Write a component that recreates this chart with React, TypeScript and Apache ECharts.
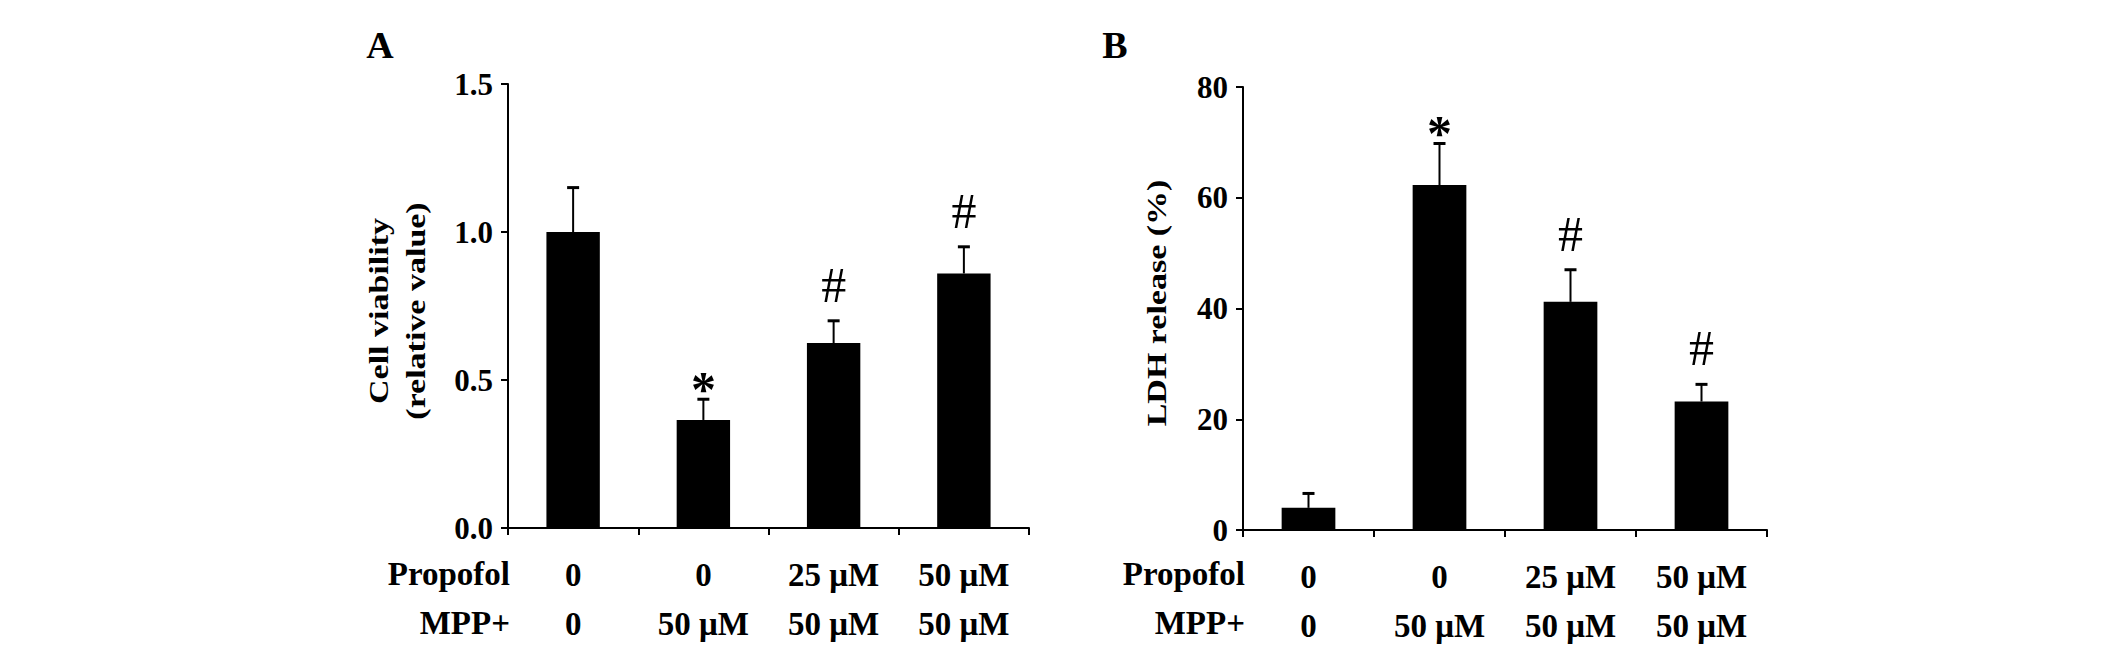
import React, { useEffect, useRef } from "react";
import * as echarts from "echarts";

// ---- data ----
const propofolLabels = ["0", "0", "25 μM", "50 μM"];
const mppLabels = ["0", "50 μM", "50 μM", "50 μM"];

const viability = [1.0, 0.365, 0.625, 0.86];
const viabilityErr = [0.15, 0.07, 0.075, 0.09];
const viabilityMarks = ["", "*", "#", "#"];
const viabilityTicks = { min: 0, max: 1.5, interval: 0.5 };
const viabilityTitle = "Cell viability\n(relative value)";

const ldh = [4.0, 62.3, 41.2, 23.2];
const ldhErr = [2.6, 7.5, 5.8, 3.1];
const ldhMarks = ["", "*", "#", "#"];
const ldhTicks = { min: 0, max: 80, interval: 20 };
const ldhTitle = "LDH release (%)";

const FONT = "'Liberation Serif', 'Times New Roman', serif";

const gridA = { left: 508, top: 84, width: 521, height: 444 };
const gridB = { left: 1243, top: 87, width: 524, height: 443 };

function categories() {
  return propofolLabels.map((p, i) => p + "\n" + mppLabels[i]);
}

function xAxisCfg(gridIndex: number) {
  return {
    type: "category",
    gridIndex,
    data: categories(),
    axisLine: { show: true, lineStyle: { color: "#000", width: 2 } },
    axisTick: { show: true, inside: false, length: 7, alignWithLabel: false, lineStyle: { color: "#000", width: 2 } },
    axisLabel: {
      show: true,
      interval: 0,
      margin: 22,
      color: "#000",
      fontFamily: FONT,
      fontWeight: "bold",
      fontSize: 33,
      lineHeight: 49,
    },
    splitLine: { show: false },
  };
}

function yAxisCfg(gridIndex: number, ticks: any, fmt: (v: number) => string) {
  return {
    type: "value",
    gridIndex,
    min: ticks.min,
    max: ticks.max,
    interval: ticks.interval,
    axisLine: { show: true, lineStyle: { color: "#000", width: 2 } },
    axisTick: { show: true, inside: false, length: 7, lineStyle: { color: "#000", width: 2 } },
    axisLabel: {
      show: true,
      margin: 15,
      color: "#000",
      fontFamily: FONT,
      fontWeight: "bold",
      fontSize: 31,
      formatter: fmt,
    },
    splitLine: { show: false },
  };
}

function barSeries(idx: number, values: number[]) {
  return {
    type: "bar",
    xAxisIndex: idx,
    yAxisIndex: idx,
    data: values,
    barWidth: "41%",
    itemStyle: { color: "#000" },
    z: 2,
  };
}

function errSeries(idx: number, values: number[], errs: number[], marks: string[]) {
  return {
    type: "custom",
    xAxisIndex: idx,
    yAxisIndex: idx,
    z: 3,
    data: values.map((v, i) => [i, v, v + errs[i]]),
    renderItem: (params: any, api: any) => {
      const i = api.value(0);
      const base = api.coord([i, api.value(1)]);
      const top = api.coord([i, api.value(2)]);
      const mark = marks[params.dataIndex];
      const children: any[] = [
        {
          type: "line",
          shape: { x1: top[0], y1: base[1], x2: top[0], y2: top[1] },
          style: { stroke: "#000", lineWidth: 2 },
        },
        {
          type: "line",
          shape: { x1: top[0] - 6, y1: top[1], x2: top[0] + 6, y2: top[1] },
          style: { stroke: "#000", lineWidth: 3 },
        },
      ];
      if (mark) {
        children.push({
          type: "text",
          x: top[0],
          y: top[1] - (mark === "#" ? 36 : 10),
          style: {
            text: mark,
            fill: "#000",
            fontFamily: FONT,
            fontWeight: mark === "*" ? "bold" : "normal",
            fontSize: 50,
            align: "center",
            verticalAlign: "middle",
          },
        });
      }
      return { type: "group", children };
    },
  };
}

function rowLabel(text: string, x: number, y: number) {
  return {
    type: "text",
    x,
    y,
    style: {
      text,
      fill: "#000",
      fontFamily: FONT,
      fontWeight: "bold",
      fontSize: 33,
      align: "right",
      verticalAlign: "middle",
    },
  };
}

function panelLabel(text: string, x: number, y: number) {
  return {
    type: "text",
    x,
    y,
    style: {
      text,
      fill: "#000",
      fontFamily: FONT,
      fontWeight: "bold",
      fontSize: 38,
      align: "center",
      verticalAlign: "middle",
    },
  };
}

function axisTitle(text: string, x: number, y: number) {
  return {
    type: "text",
    x,
    y,
    rotation: Math.PI / 2,
    scaleX: 1,
    scaleY: 0.82,
    style: {
      text,
      fill: "#000",
      fontFamily: FONT,
      fontWeight: "bold",
      fontSize: 34,
      lineHeight: 46,
      align: "center",
      verticalAlign: "middle",
    },
  };
}

export default function App() {
  const ref = useRef<HTMLDivElement>(null);
  useEffect(() => {
    if (!ref.current) return;
    const chart = echarts.init(ref.current, null, { renderer: "svg" });
    const row1Y = gridA.top + gridA.height + 46;
    const row2Y = row1Y + 49;
    chart.setOption({
      animation: false,
      backgroundColor: "#fff",
      grid: [
        { ...gridA, containLabel: false },
        { ...gridB, containLabel: false },
      ],
      xAxis: [xAxisCfg(0), xAxisCfg(1)],
      yAxis: [
        yAxisCfg(0, viabilityTicks, (v: number) => v.toFixed(1)),
        yAxisCfg(1, ldhTicks, (v: number) => String(Math.round(v))),
      ],
      series: [
        barSeries(0, viability),
        errSeries(0, viability, viabilityErr, viabilityMarks),
        barSeries(1, ldh),
        errSeries(1, ldh, ldhErr, ldhMarks),
      ],
      graphic: [
        panelLabel("A", gridA.left - 128, 45),
        panelLabel("B", gridB.left - 128, 45),
        axisTitle(viabilityTitle, gridA.left - 111, gridA.top + 227),
        axisTitle(ldhTitle, gridB.left - 86, gridB.top + 216),
        rowLabel("Propofol", gridA.left + 2, row1Y),
        rowLabel("MPP+", gridA.left + 2, row2Y),
        rowLabel("Propofol", gridB.left + 2, row1Y),
        rowLabel("MPP+", gridB.left + 2, row2Y),
      ],
    });
    return () => chart.dispose();
  }, []);
  return (
    <div
      ref={ref}
      style={{ position: "absolute", left: 0, top: 0, width: 2126, height: 650, background: "#fff" }}
    />
  );
}
